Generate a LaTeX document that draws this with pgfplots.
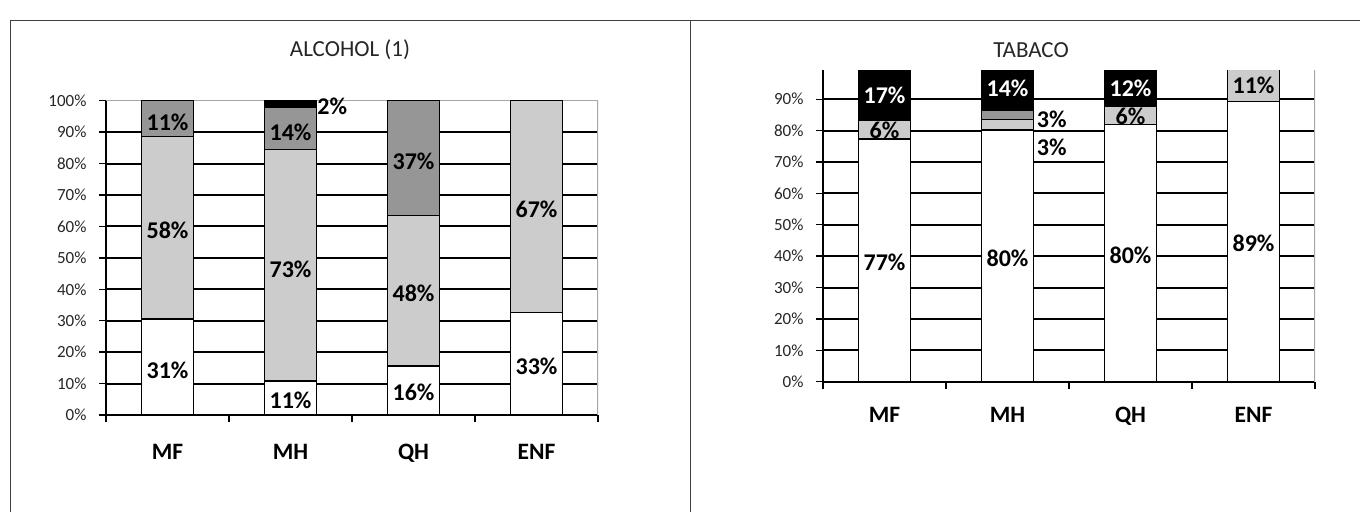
\documentclass[border=0pt]{standalone}
\usepackage{fontspec}
\setmainfont{Carlito}
\usepackage{pgfplots}
\pgfplotsset{compat=1.18}

\definecolor{lgray}{HTML}{CCCCCC}
\definecolor{mgray}{HTML}{969696}
\definecolor{panelline}{HTML}{404040}
\definecolor{boxgray}{HTML}{A6A6A6}

% segment values
\pgfplotstableread{
x white lgray mgray black
0 30.6 58.0 11.4 0
1 10.8 73.6 13.4 2.2
2 15.6 47.8 36.6 0
3 32.6 67.4 0 0
}\alcohol
\pgfplotstableread{
x white lgray mgray black
0 77.3 6.0 0 16.7
1 80.2 3.4 2.9 13.5
2 81.9 5.9 0 12.2
3 89.2 10.8 0 0
}\tabaco

\pgfplotsset{
  barchart/.style={
    scale only axis, width=492pt,
    xmin=-0.5, xmax=3.5, ymin=0,
    ybar stacked, bar width=52pt,
    axis x line*=bottom, axis y line*=left,
    axis line style={black, line width=2pt},
    xtick={0,1,2,3}, xticklabels={MF,MH,QH,ENF},
    major x tick style={draw=none},
    minor xtick={-0.5,0.5,1.5,2.5,3.5},
    minor x tick style={black, line width=1.3pt},
    minor tick length=7pt, major tick length=7pt,
    tick align=outside,
    major y tick style={black, line width=1.3pt},
    xticklabel style={font=\fontsize{23.5}{26}\selectfont\bfseries, anchor=base},
    yticklabel style={font=\fontsize{17}{19}\selectfont, text=black!85, xshift=-9pt},
    extra y ticks={10,20,...,90}, extra y tick labels={},
    extra y tick style={grid=major, major tick length=0pt},
    grid style={black, line width=2pt},
  },
  seg/.style={draw=black, line width=1.4pt, fill=#1},
  labels/.style={
    scale only axis, width=492pt, xmin=-0.5, xmax=3.5, ymin=0,
    hide axis, clip=false,
  },
  lab/.style={draw=none, mark=none, nodes near coords={\pgfplotspointmeta\%},
    point meta=explicit symbolic,
    every node near coord/.style={anchor=center, text=#1,
      font=\fontsize{24}{26}\selectfont\bfseries}},
}

\begin{document}
\begin{tikzpicture}[x=1pt,y=1pt]
\useasboundingbox (0,0) rectangle (1360,-512);
\draw[panelline, line width=1pt] (10,-512) -- (10,-20) -- (1360,-20);
\draw[panelline, line width=1pt] (690,-20) -- (690,-512);
\node[font=\fontsize{23}{26}\selectfont, text=black!85] at (350,-50) {ALCOHOL (1)};
\node[font=\fontsize{23}{26}\selectfont, text=black!85] at (1031,-50) {TABACO};

% ALCOHOL
\begin{axis}[barchart, at={(106pt,-415pt)}, anchor=south west,
  height=314.3pt, ymax=100,
  ytick={0,10,...,100},
  yticklabels={0\%,10\%,20\%,30\%,40\%,50\%,60\%,70\%,80\%,90\%,100\%},
  xticklabel style={yshift=-37pt}]
\addplot[seg=white] table[x=x, y=white] {\alcohol};
\addplot[seg=lgray] table[x=x, y=lgray] {\alcohol};
\addplot[seg=mgray] table[x=x, y=mgray] {\alcohol};
\addplot[seg=black] table[x=x, y=black] {\alcohol};
\draw[boxgray, line width=1.2pt] (rel axis cs:0,1) -- (rel axis cs:1,1) -- (rel axis cs:1,0);
\end{axis}
\begin{axis}[labels, at={(106pt,-415pt)}, anchor=south west,
  height=314.3pt, ymax=100]
\addplot[lab=black] table[meta=t] {
x y t
0 14.3 31
0 58.9 58
0 93.2 11
1 4.6 11
1 46.4 73
1 89.8 14
1.34 98.3 2
2 7.2 16
2 38.8 48
2 80.8 37
3 15.4 33
3 65.5 67
};
\end{axis}

% TABACO
\begin{axis}[barchart, at={(823pt,-381.7pt)}, anchor=south west,
  height=311.7pt, ymax=99.3,
  ytick={0,10,...,90},
  yticklabels={0\%,10\%,20\%,30\%,40\%,50\%,60\%,70\%,80\%,90\%},
  xticklabel style={yshift=-34pt}]
\addplot[seg=white] table[x=x, y=white] {\tabaco};
\addplot[seg=lgray] table[x=x, y=lgray] {\tabaco};
\addplot[seg=mgray] table[x=x, y=mgray] {\tabaco};
\addplot[seg=black] table[x=x, y=black] {\tabaco};
\draw[boxgray, line width=1.2pt] (rel axis cs:1,1) -- (rel axis cs:1,0);
\end{axis}
\begin{axis}[labels, at={(823pt,-381.7pt)}, anchor=south west,
  height=311.7pt, ymax=99.3]
\addplot[lab=black] table[meta=t] {
x y t
0 38.1 77
0 80.2 6
1 39.4 80
1.36 83.6 3
1.36 74.7 3
2 40.3 80
2 84.6 6
3 44.2 89
3 94.5 11
};
\addplot[lab=white] table[meta=t] {
x y t
0 91.3 17
1 93.5 14
2 93.4 12
};
\end{axis}
\end{tikzpicture}
\end{document}
